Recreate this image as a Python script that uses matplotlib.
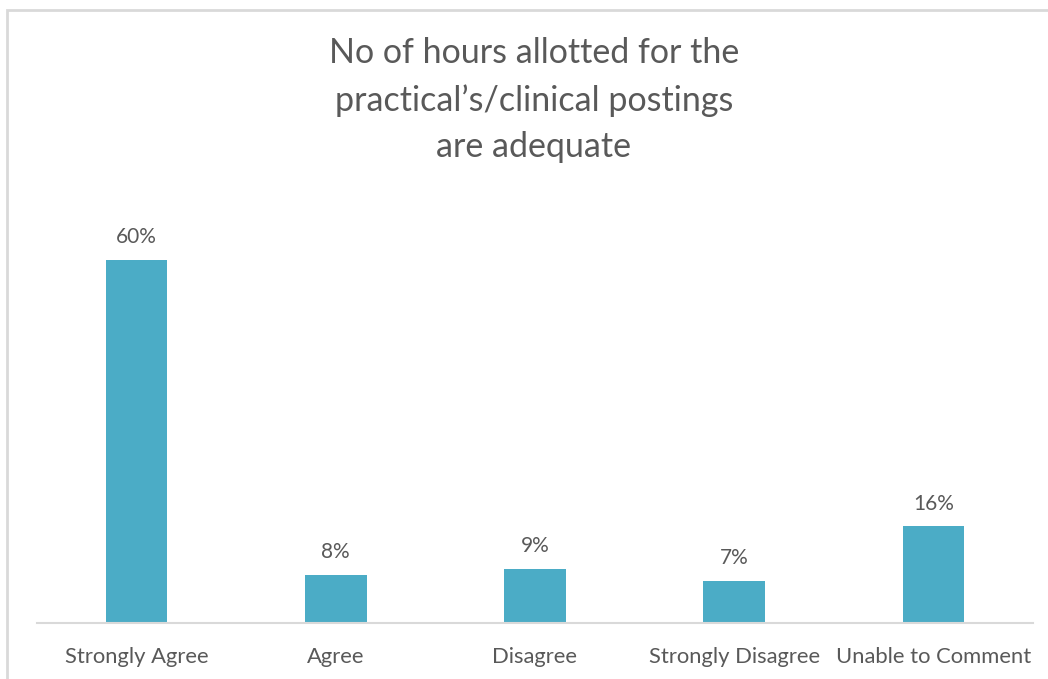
import matplotlib
matplotlib.use("Agg")
import matplotlib.pyplot as plt
from matplotlib.patches import Rectangle

categories = ["Strongly Agree", "Agree", "Disagree", "Strongly Disagree", "Unable to Comment"]
values = [60, 8, 9, 7, 16]
labels = ["60%", "8%", "9%", "7%", "16%"]
title = "No of hours allotted for the\npractical\u2019s/clinical postings\nare adequate"

W, H = 1048, 679
fig = plt.figure(figsize=(W / 100, H / 100), dpi=100)
plt.rcParams['font.family'] = ['Lato', 'DejaVu Sans']

# outer frame (extends past right/bottom edges)
fig.patches.append(Rectangle((7 / W, -0.1), 1.2, (H - 10) / H + 0.1, transform=fig.transFigure,
                             fill=False, edgecolor="#d9d9d9", linewidth=2))

ax_left, ax_right = 37 / W, 1033 / W
ax_bottom = (H - 623) / H
ylim_top = 70
px_per = 6.05
ax_h = ylim_top * px_per / H
ax = fig.add_axes([ax_left, ax_bottom, ax_right - ax_left, ax_h])

x = list(range(len(categories)))
ax.bar(x, values, width=0.31, color="#4BACC6", zorder=2)
ax.set_xlim(-0.5, len(categories) - 0.5)
ax.set_ylim(0, ylim_top)
for s in ["top", "right", "left"]:
    ax.spines[s].set_visible(False)
ax.spines["bottom"].set_color("#d9d9d9")
ax.spines["bottom"].set_linewidth(1.5)
ax.set_yticks([])
ax.set_xticks(x)
ax.set_xticklabels(categories, fontsize=15.8, color="#595959")
ax.tick_params(axis="x", length=0, pad=17)
ax.patch.set_alpha(0)

for xi, v, lab in zip(x, values, labels):
    ax.annotate(lab, (xi, v), xytext=(0, 9), textcoords="offset points",
                ha="center", va="bottom", fontsize=15, color="#595959")

fig.text(534 / W, 1 - 100 / H, title, ha="center", va="center", fontsize=24.5,
         color="#595959", linespacing=1.55)

fig.savefig("out.png", dpi=100)
